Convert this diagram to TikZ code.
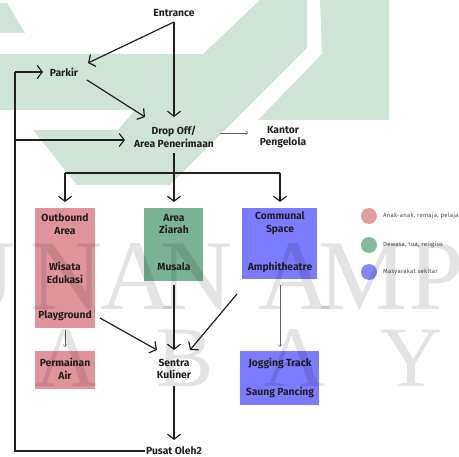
\documentclass[tikz,border=0pt]{standalone}
\usepackage{fontspec}
\setmainfont{Fira Sans}
\newfontfamily\wmfont{Liberation Serif}
\usetikzlibrary{arrows.meta,calc}
\definecolor{pinkbox}{RGB}{224,148,153}
\definecolor{greenbox}{RGB}{122,178,150}
\definecolor{bluebox}{RGB}{123,123,255}
\definecolor{wmgreen}{RGB}{207,228,215}
\definecolor{ink}{RGB}{35,31,32}
\begin{document}
\begin{tikzpicture}[x=1pt,y=-1pt,
  lbl/.style={font=\bfseries\fontsize{10.3}{12.5}\selectfont, align=center, text=ink, inner sep=1pt},
  zone/.style={draw=none, inner sep=0pt},
  legtxt/.style={font=\fontsize{6}{7}\selectfont\addfontfeature{LetterSpace=4}, text=ink!80, anchor=west, inner sep=0pt},
  legdot/.style={circle, inner sep=0pt, minimum size=16pt},
  wm/.style={font=\wmfont\fontsize{#1}{#1}\selectfont, text=black, text opacity=0.11, anchor=base, inner sep=0pt},
  flow/.style={draw=ink, line width=1.2pt, -{Straight Barb[length=5pt,width=13pt]}},
  plain/.style={draw=ink, line width=1.2pt},
  thin/.style={draw=ink!70, line width=0.5pt, -{Straight Barb[length=2pt,width=4pt]}}]
\useasboundingbox (0,0) rectangle (459,457);
% watermark shapes
\fill[wmgreen] (0,3) -- (7,3) -- (25,33) -- (0,33) -- cycle;
\fill[wmgreen] (0,54) -- (203,54) -- (260,0) -- (307,0) -- (307,48) -- (170,185) -- (77,185) -- (33,130) -- (118,130) -- (135,110) -- (0,110) -- cycle;
\fill[wmgreen] (320,0) -- (389,0) -- (389,120) -- (258,120) -- (322,54) -- cycle;

% text nodes
\node[lbl] (ent) at (174,13) {Entrance};
\node[lbl] (park) at (64,72) {Parkir};
\node[lbl] (drop) at (174,137) {Drop Off/\\Area Penerimaan};
\node[lbl] (kant) at (283,137) {Kantor\\Pengelola};

% zone boxes
\node[zone, fill=pinkbox, minimum width=60pt, minimum height=120pt] (outb) at (65,268) {};
\node[zone, fill=greenbox, minimum width=59pt, minimum height=73pt] (zia) at (173.5,244.5) {};
\node[zone, fill=bluebox, minimum width=75pt, minimum height=71pt] (comm) at (279.5,243.5) {};
\node[zone, fill=pinkbox, minimum width=60pt, minimum height=38pt] (perm) at (65,370) {};
\node[zone, fill=bluebox, minimum width=79pt, minimum height=54pt] (jog) at (279.5,378) {};

\node[lbl] (outbT) at (65,224) {Outbound\\Area};
\node[lbl] (wis) at (65,273) {Wisata\\Edukasi};
\node[lbl] (play) at (65,316) {Playground};
\node[lbl] (ziaT) at (174,224) {Area\\Ziarah};
\node[lbl] (mus) at (174,267) {Musala};
\node[lbl] (commT) at (280,223) {Communal\\Space};
\node[lbl] (amph) at (280,267) {Amphitheatre};
\node[lbl] (permT) at (65,369) {Permainan\\Air};
\node[lbl] (jogT) at (280,363) {Jogging Track};
\node[lbl] (saung) at (280,392) {Saung Pancing};
\node[lbl] (sentra) at (174,369) {Sentra\\Kuliner};
\node[lbl] (pusat) at (174,451) {Pusat Oleh2};

% legend
\node[legdot, fill=pinkbox!92!white] (l1) at (369,216) {};
\node[legdot, fill=greenbox!92!white] (l2) at (369,245) {};
\node[legdot, fill=bluebox!92!white] (l3) at (369,272) {};
\node[legtxt] (t1) at (383,216) {Anak-anak, remaja, pelajar};
\node[legtxt] (t2) at (383,245) {Dewasa, tua, religius};
\node[legtxt] (t3) at (383,272) {Masyarakat sekitar};

% coordinates
\coordinate (eS) at (174,22);
\coordinate (parkIn) at (88,63);
\coordinate (parkOut) at (87,80);
\coordinate (dropIn1) at (145,117);
\coordinate (dropTop) at (174,117);
\coordinate (dropL) at (125,140);
\coordinate (dropB) at (174,153);
\coordinate (split) at (174,173);
\coordinate (sL) at (65,173);
\coordinate (sR) at (280,173);
\coordinate (loopT) at (15,72);
\coordinate (loopM) at (15,140);
\coordinate (loopB) at (15,451);
\coordinate (parkL) at (43,72);
\coordinate (pusatL) at (145,451);

% connectors
\draw[flow] (eS) -- (parkIn);
\draw[flow] (eS) -- (dropTop);
\draw[flow] (parkOut) -- (dropIn1);
\draw[plain] (pusatL) -- (loopB) -- (loopT);
\draw[flow] (loopT) -- (parkL);
\draw[flow] (loopM) -- (dropL);
\draw[thin] (220,133) -- (248,133);
\draw[plain] (dropB) -- (split);
\draw[plain] (sL) -- (sR);
\draw[flow] (split) -- (174,202);
\draw[flow] (sL) -- (65,202);
\draw[flow] (sR) -- (280,202);
\draw[thin] (outb.south) ++(0,2) -- (65,347);
\draw[flow] (100,318) -- (157,350);
\draw[flow] (174,285) -- (174,350);
\draw[flow] (237,294) -- (190,350);
\draw[thin] (280,285) -- (280,347);
\draw[flow] (174,386) -- (174,440);

% watermark letters
\node[wm=100] at (-20,310) {U};
\node[wm=100] at (67,310) {N};
\node[wm=100] at (137,310) {A};
\node[wm=100] at (197,310) {N};
\node[wm=100] at (295,310) {A};
\node[wm=100] at (363,310) {M};
\node[wm=100] at (436,310) {P};
\node[wm=86] at (67,387) {A};
\node[wm=86] at (185,387) {B};
\node[wm=86] at (295,387) {A};
\node[wm=86] at (412,387) {Y};
\end{tikzpicture}
\end{document}
